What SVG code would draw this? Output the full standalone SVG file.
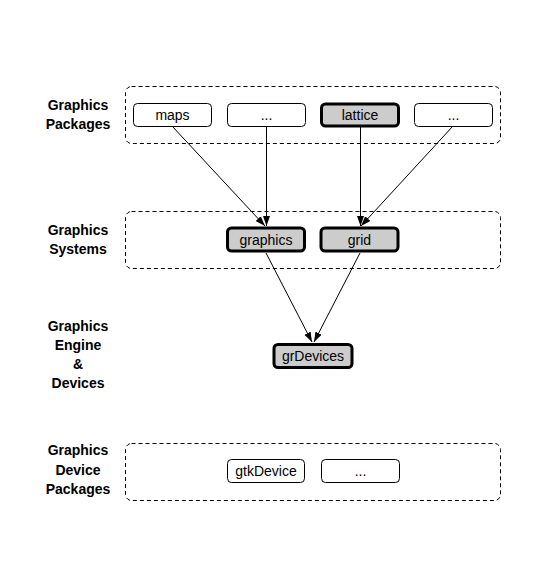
<svg xmlns="http://www.w3.org/2000/svg" width="533" height="586" viewBox="0 0 533 586">
<style>
.grp{fill:none;stroke:#000;stroke-width:1;stroke-dasharray:4,3}
.n{fill:#fff;stroke:#000;stroke-width:1}
.h{fill:#cccccc;stroke:#000;stroke-width:3}
.t{font-family:"Liberation Sans",Arial,sans-serif;font-size:14px;text-anchor:middle;fill:#000}
.l{font-family:"Liberation Sans",Arial,sans-serif;font-size:14px;font-weight:bold;text-anchor:middle;fill:#000}
.c{stroke:#000;stroke-width:1;fill:none;marker-end:url(#ah)}
</style>
<defs>
<marker id="ah" viewBox="0 0 10 10" refX="10" refY="5" markerWidth="10" markerHeight="10" markerUnits="userSpaceOnUse" orient="auto">
<path d="M0,1.5 L10,5 L0,8.5 z" fill="#000"/>
</marker>
</defs>
<rect width="533" height="586" fill="#fff"/>
<g id="labels">
<text class="l" x="78" y="110">Graphics</text>
<text class="l" x="78" y="129">Packages</text>
<text class="l" x="78" y="235">Graphics</text>
<text class="l" x="78" y="254">Systems</text>
<text class="l" x="78" y="331">Graphics</text>
<text class="l" x="78" y="350">Engine</text>
<text class="l" x="78" y="369">&amp;</text>
<text class="l" x="78" y="388">Devices</text>
<text class="l" x="78" y="455">Graphics</text>
<text class="l" x="78" y="475">Device</text>
<text class="l" x="78" y="494">Packages</text>
</g>
<g id="groups">
<rect class="grp" x="125.5" y="86.5" width="375" height="57" rx="6"/>
<rect class="grp" x="125.5" y="211.5" width="375" height="57" rx="6"/>
<rect class="grp" x="125.5" y="443.5" width="375" height="57" rx="6"/>
</g>
<g id="connectors">
<line class="c" x1="172" y1="126" x2="265" y2="226"/>
<line class="c" x1="266.5" y1="126" x2="266.5" y2="226"/>
<line class="c" x1="360.5" y1="127" x2="360.5" y2="226"/>
<line class="c" x1="453" y1="126" x2="361" y2="226"/>
<line class="c" x1="266" y1="253" x2="312" y2="342"/>
<line class="c" x1="360" y1="253" x2="314" y2="342"/>
</g>
<g id="maps"><rect class="n" x="133.5" y="103.5" width="78" height="23" rx="4"/><text class="t" x="172.5" y="120">maps</text></g>
<g id="pkgdots1"><rect class="n" x="227.5" y="103.5" width="78" height="23" rx="4"/><text class="t" x="266.5" y="120">...</text></g>
<g id="lattice"><rect class="h" x="321.5" y="104" width="77" height="22" rx="4"/><text class="t" x="360" y="120">lattice</text></g>
<g id="pkgdots2"><rect class="n" x="414.5" y="103.5" width="78" height="23" rx="4"/><text class="t" x="453.5" y="120">...</text></g>
<g id="graphics"><rect class="h" x="227.5" y="228" width="77" height="23" rx="4"/><text class="t" x="266" y="245">graphics</text></g>
<g id="grid"><rect class="h" x="321" y="228" width="77" height="23" rx="4"/><text class="t" x="359.5" y="245">grid</text></g>
<g id="grDevices"><rect class="h" x="274" y="344.5" width="78" height="23" rx="4"/><text class="t" x="313" y="361">grDevices</text></g>
<g id="gtkDevice"><rect class="n" x="227.5" y="459.5" width="77" height="23" rx="4"/><text class="t" x="266" y="476">gtkDevice</text></g>
<g id="devdots"><rect class="n" x="321.5" y="459.5" width="78" height="23" rx="4"/><text class="t" x="360.5" y="476">...</text></g>
</svg>
